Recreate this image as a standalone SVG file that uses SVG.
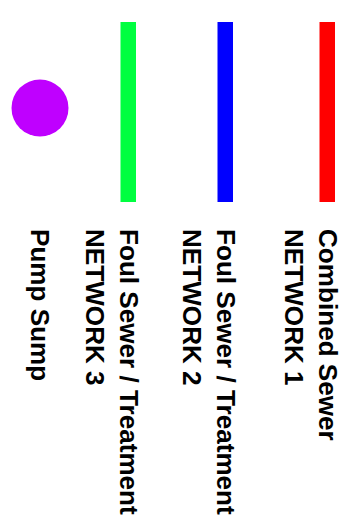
<svg xmlns="http://www.w3.org/2000/svg" width="360" height="525" viewBox="0 0 360 525">
<style>
text{font-family:"Liberation Sans",Arial,sans-serif;font-weight:bold;font-size:25px;fill:#000}
</style>
<rect width="360" height="525" fill="#fff"/>
<g id="combined">
<rect x="319.5" y="22" width="15.5" height="180" fill="#ff0000"/>
<text transform="translate(319,229) rotate(90) scale(1.045,1)">Combined Sewer</text>
<text transform="translate(285,229) rotate(90) scale(1.045,1)">NETWORK 1</text>
</g>
<g id="foul2">
<rect x="217.5" y="22" width="15.5" height="180" fill="#0000ff"/>
<text transform="translate(217,229) rotate(90) scale(1.045,1)">Foul Sewer / Treatment</text>
<text transform="translate(183,229) rotate(90) scale(1.045,1)">NETWORK 2</text>
</g>
<g id="foul3">
<rect x="120.5" y="22" width="15.5" height="180" fill="#00ff40"/>
<text transform="translate(120,229) rotate(90) scale(1.045,1)">Foul Sewer / Treatment</text>
<text transform="translate(86,229) rotate(90) scale(1.045,1)">NETWORK 3</text>
</g>
<g id="pump">
<circle cx="40" cy="108" r="28.5" fill="#bf00ff"/>
<text transform="translate(31,229) rotate(90) scale(1.045,1)">Pump Sump</text>
</g>
</svg>
